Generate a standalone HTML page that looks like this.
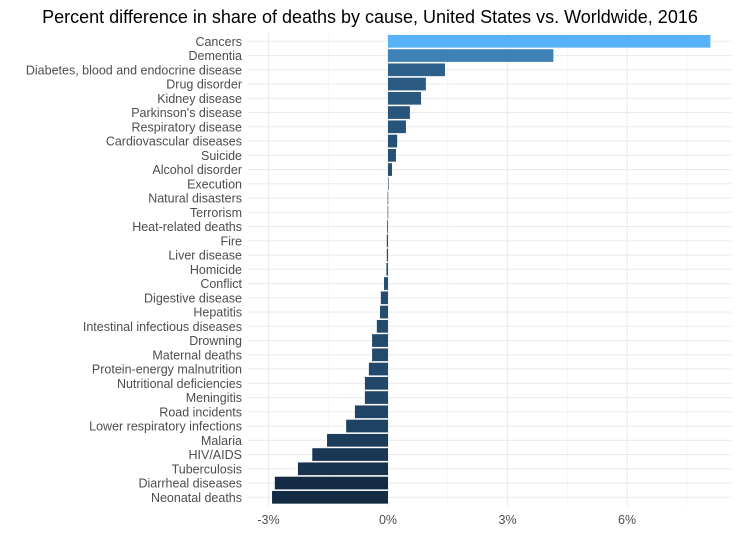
<!DOCTYPE html>
<html><head><meta charset="utf-8"><style>
body{margin:0;background:#fff;font-family:"Liberation Sans",sans-serif;}
</style></head><body>
<svg id="chart" width="740" height="549" xmlns="http://www.w3.org/2000/svg">
<text x="370" y="23" text-anchor="middle" font-size="18" fill="#000">Percent difference in share of deaths by cause, United States vs. Worldwide, 2016</text>
<g id="grid"></g><g id="bars"></g><g id="labels"></g>
</svg>
<script>
const categories=["Cancers","Dementia","Diabetes, blood and endocrine disease","Drug disorder","Kidney disease","Parkinson's disease","Respiratory disease","Cardiovascular diseases","Suicide","Alcohol disorder","Execution","Natural disasters","Terrorism","Heat-related deaths","Fire","Liver disease","Homicide","Conflict","Digestive disease","Hepatitis","Intestinal infectious diseases","Drowning","Maternal deaths","Protein-energy malnutrition","Nutritional deficiencies","Meningitis","Road incidents","Lower respiratory infections","Malaria","HIV/AIDS","Tuberculosis","Diarrheal diseases","Neonatal deaths"];
const values=[8.09,4.15,1.43,0.95,0.83,0.55,0.45,0.23,0.2,0.1,0.0,-0.01,-0.01,-0.02,-0.03,-0.03,-0.04,-0.1,-0.18,-0.2,-0.28,-0.4,-0.4,-0.48,-0.58,-0.58,-0.83,-1.05,-1.53,-1.9,-2.26,-2.84,-2.91];
const majorTicks=[-3,0,3,6];
const minorTicks=[-1.5,1.5,4.5,7.5];
const tickLabels=["-3%","0%","3%","6%"];
const NS="http://www.w3.org/2000/svg";
const x0=388,pxPer=39.85,yTop=41.3,step=14.25,bh=12.7,leftX=248,rightX=731;
const X=v=>x0+v*pxPer, Y=i=>yTop+i*step;
function mk(t,a,p){const e=document.createElementNS(NS,t);for(const k in a)e.setAttribute(k,a[k]);p.appendChild(e);return e;}
const g=document.getElementById('grid'),b=document.getElementById('bars'),l=document.getElementById('labels');
minorTicks.forEach(t=>{const e=mk('line',{x1:X(t),x2:X(t),y1:33,y2:506,stroke:'#f0f0f0','stroke-width':0.6},g);

});
majorTicks.forEach((t,i)=>{const e=mk('line',{x1:X(t),x2:X(t),y1:33,y2:506,stroke:'#ebebeb','stroke-width':1.1},g);


const tx=mk('text',{x:X(t),y:524,'text-anchor':'middle','font-size':12.5,fill:'#4d4d4d'},l);tx.textContent=tickLabels[i];

});
const vmin=Math.min(...values),vmax=Math.max(...values);
function col(v){const f=(v-vmin)/(vmax-vmin);const a=[19,43,67],c=[86,177,247];return 'rgb('+a.map((s,k)=>Math.round(s+(c[k]-s)*f)).join(',')+')';}
categories.forEach((c,i)=>{
const hl=mk('line',{x1:leftX,x2:rightX,y1:Y(i),y2:Y(i),stroke:'#ebebeb','stroke-width':1.1},g);


const v=values[i];const r=mk('rect',{x:Math.min(X(0),X(v)),y:Y(i)-bh/2,width:Math.max(Math.abs(X(v)-X(0)),0.6),height:bh,fill:col(v)},b);


const t=mk('text',{x:242,y:Y(i)+4.5,'text-anchor':'end','font-size':12.5,fill:'#4d4d4d'},l);t.textContent=c;

});
</script>
</body></html>
